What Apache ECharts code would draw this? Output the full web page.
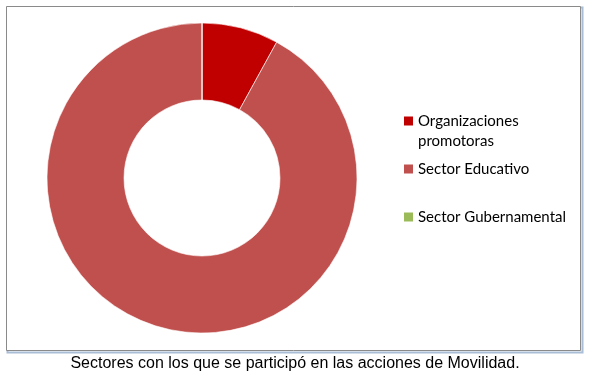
<!DOCTYPE html>
<html><head><meta charset="utf-8">
<script src="https://cdn.jsdelivr.net/npm/echarts@6/dist/echarts.min.js"></script>
<style>html,body{margin:0;padding:0;background:#fff}#c{width:590px;height:379px}</style>
</head><body><div id="c"></div>
<script>
const categories = ['Organizaciones promotoras', 'Sector Educativo', 'Sector Gubernamental'];
const values = [8, 92, 0];
const colors = ['#C00000', '#C0504D', '#9BBB59'];
const caption = 'Sectores con los que se participó en las acciones de Movilidad.';

const chart = echarts.init(document.getElementById('c'), null, {renderer: 'canvas'});
const legendTops = [91, 159, 207];
const legendBase = {
  left: 404, orient: 'vertical', padding: 0, icon: 'rect',
  itemWidth: 9, itemHeight: 9, itemGap: 0, textGap: 3,
  selectedMode: false,
  itemStyle: {borderWidth: 0},
  textStyle: {fontFamily: 'Lato', fontSize: 15, color: '#000', lineHeight: 20}
};
const legends = categories.map((name, i) => {
  const l = Object.assign({}, legendBase, {top: legendTops[i], data: [name]});
  if (i === 0) {
    l.formatter = n => ' \n' + n.replace(' ', '\n');
  }
  return l;
});
chart.setOption({
  animation: false,
  color: colors,
  title: {
    text: caption, left: 'center', top: 356, padding: 0,
    textStyle: {fontFamily: 'Liberation Sans', fontSize: 16, fontWeight: 'normal', color: '#000'}
  },
  legend: legends,
  graphic: [
    {type: 'rect', shape: {x: 7.5, y: 7.5, width: 575, height: 345}, style: {fill: 'none', stroke: '#a9bdd6', lineWidth: 2}, z: -2},
    {type: 'rect', shape: {x: 6.5, y: 6.5, width: 574, height: 344}, style: {fill: '#fff', stroke: '#8a8a8a', lineWidth: 1}, z: -1}
  ],
  series: [{
    type: 'pie',
    center: [202, 178],
    radius: [78, 155],
    startAngle: 90,
    clockwise: true,
    label: {show: false},
    labelLine: {show: false},
    emphasis: {disabled: true},
    itemStyle: {borderColor: '#fff', borderWidth: 0.6},
    data: categories.map((n, i) => ({name: n, value: values[i]}))
  }]
});
</script></body></html>
